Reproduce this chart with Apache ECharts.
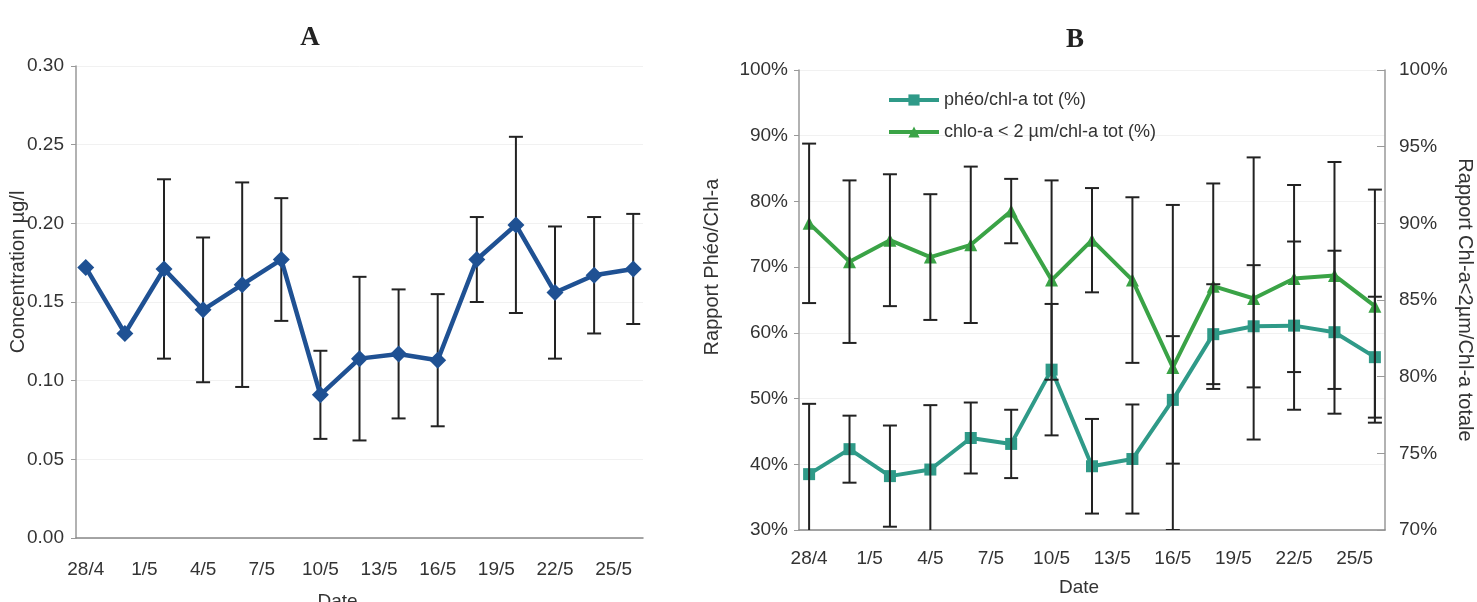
<!DOCTYPE html>
<html>
<head>
<meta charset="utf-8">
<script src="https://cdn.jsdelivr.net/npm/echarts@6/dist/echarts.min.js"></script>
<style>
html,body{margin:0;padding:0;background:#fff;}
#chart{width:1477px;height:602px;}
</style>
</head>
<body>
<div id="chart"></div>
<script>
// ---- Data ----
const dayCategories = ['28/4','29/4','30/4','1/5','2/5','3/5','4/5','5/5','6/5','7/5','8/5','9/5','10/5','11/5','12/5','13/5','14/5','15/5','16/5','17/5','18/5','19/5','20/5','21/5','22/5','23/5','24/5','25/5','26/5'];
const sampleDates = ['28/4','30/4','2/5','4/5','6/5','8/5','10/5','12/5','14/5','16/5','18/5','20/5','22/5','24/5','26/5'];

// Panel A : concentration (µg/l)
const concMean = [0.172,0.130,0.171,0.145,0.161,0.177,0.091,0.114,0.117,0.113,0.177,0.199,0.156,0.167,0.171];
const concSd   = [null,null,0.057,0.046,0.065,0.039,0.028,0.052,0.041,0.042,0.027,0.056,0.042,0.037,0.035];

// Panel B : phéo/chl-a tot (%) - left axis
const pheoMean = [38.5,42.3,38.2,39.2,44.0,43.1,54.4,39.7,40.8,49.8,59.8,61.0,61.1,60.1,56.3];
const pheoSd   = [10.7,5.1,7.7,9.8,5.4,5.2,10.0,7.2,8.3,9.7,7.6,9.3,12.8,12.4,9.2];

// Panel B : chlo-a < 2 µm/chl-a tot (%) - right axis
const picoMean = [90.0,87.5,88.9,87.8,88.6,90.8,86.3,88.9,86.3,80.6,85.9,85.1,86.4,86.6,84.6];
const picoSd   = [5.2,5.3,4.3,4.1,5.1,2.1,6.5,3.4,5.4,10.6,6.7,9.2,6.1,7.4,7.6];

const yTicksA = [0,0.30,0.05];
const yTicksBLeft = [30,100,10];
const yTicksBRight = [70,100,5];

// ---- Helpers ----
const FONT = '"Liberation Sans", Arial, sans-serif';
const TXT = '#333';
function pairs(mean){ return sampleDates.map((d,i)=>[d, mean[i]]); }
function errData(mean, sd){
  const out = [];
  sampleDates.forEach((d,i)=>{ if(sd[i]!=null) out.push([d, mean[i]-sd[i], mean[i]+sd[i]]); });
  return out;
}
function errRender(params, api){
  const x = api.value(0);
  const lo = api.coord([x, api.value(1)]);
  const hi = api.coord([x, api.value(2)]);
  const w = 7;
  const st = {stroke:'#222', lineWidth:2};
  return {type:'group', children:[
    {type:'line', shape:{x1:hi[0],y1:hi[1],x2:lo[0],y2:lo[1]}, style:st},
    {type:'line', shape:{x1:hi[0]-w,y1:hi[1],x2:hi[0]+w,y2:hi[1]}, style:st},
    {type:'line', shape:{x1:lo[0]-w,y1:lo[1],x2:lo[0]+w,y2:lo[1]}, style:st}
  ]};
}
function xAxisCfg(grid, margin, nameGap, shift){
  return {
    type:'category', gridIndex:grid, data:dayCategories, boundaryGap:true,
    axisLine:{lineStyle:{color:'#888', width:1.5}},
    axisTick:{interval:2, length:5, lineStyle:{color:'#888', width:1.5}},
    axisLabel:{interval:2, fontFamily:FONT, fontSize:19, color:TXT, margin:margin},
    splitLine:{show:false},
    name:'Date', nameLocation:'middle', nameGap:nameGap,
    nameTextStyle:{fontFamily:FONT, fontSize:19, color:TXT, padding:[0,shift,0,0]}
  };
}

const chart = echarts.init(document.getElementById('chart'), null, {renderer:'canvas'});
const option = {
  animation:false,
  backgroundColor:'#fff',
  title:[
    {text:'A', left:305, top:20, textAlign:'center', textStyle:{fontFamily:'"Liberation Serif", serif', fontWeight:'bold', fontSize:27, color:'#222'}},
    {text:'B', left:1070, top:22, textAlign:'center', textStyle:{fontFamily:'"Liberation Serif", serif', fontWeight:'bold', fontSize:27, color:'#222'}}
  ],
  legend:{
    orient:'vertical', left:882, top:86, itemWidth:50, itemHeight:14, itemGap:14,
    lineStyle:{width:4},
    textStyle:{fontFamily:FONT, fontSize:18, color:TXT},
    data:['phéo/chl-a tot (%)','chlo-a < 2 µm/chl-a tot (%)']
  },
  grid:[
    {left:76, right:834, top:66, bottom:64, containLabel:false, outerBoundsMode:'none'},
    {left:799, right:92, top:70, bottom:72, containLabel:false, outerBoundsMode:'none'}
  ],
  xAxis:[ xAxisCfg(0, 22, 54, 44), xAxisCfg(1, 19, 48, 26) ],
  yAxis:[
    {type:'value', gridIndex:0, min:yTicksA[0], max:yTicksA[1], interval:yTicksA[2],
     axisLine:{show:true, lineStyle:{color:'#999', width:1.5}},
     axisTick:{show:true, length:5, lineStyle:{color:'#999'}},
     axisLabel:{fontFamily:FONT, fontSize:19, color:TXT, margin:12, formatter:v=>v.toFixed(2)},
     splitLine:{show:true, lineStyle:{color:'#f1f1f1'}},
     name:'Concentration µg/l', nameLocation:'middle', nameGap:48, nameRotate:90, nameMoveOverlap:false,
     nameTextStyle:{fontFamily:FONT, fontSize:20, color:TXT, padding:[0,0,0,60]}},
    {type:'value', gridIndex:1, min:yTicksBLeft[0], max:yTicksBLeft[1], interval:yTicksBLeft[2],
     axisLine:{show:true, lineStyle:{color:'#999', width:1.5}},
     axisTick:{show:true, length:5, lineStyle:{color:'#999'}},
     axisLabel:{fontFamily:FONT, fontSize:19, color:TXT, margin:11, formatter:'{value}%'},
     splitLine:{show:true, lineStyle:{color:'#f1f1f1'}},
     name:'Rapport Phéo/Chl-a', nameLocation:'middle', nameGap:77, nameRotate:90,
     nameTextStyle:{fontFamily:FONT, fontSize:20, color:TXT, padding:[0,0,0,66]}},
    {type:'value', gridIndex:1, position:'right', min:yTicksBRight[0], max:yTicksBRight[1], interval:yTicksBRight[2],
     axisLine:{show:true, lineStyle:{color:'#999', width:1.5}},
     axisTick:{show:true, inside:true, length:8, lineStyle:{color:'#999'}},
     axisLabel:{fontFamily:FONT, fontSize:19, color:TXT, margin:14, formatter:'{value}%'},
     splitLine:{show:false},
     name:'Rapport Chl-a<2µm/Chl-a totale', nameLocation:'middle', nameGap:70, nameRotate:-90,
     nameTextStyle:{fontFamily:FONT, fontSize:20, color:TXT}}
  ],
  series:[
    {type:'custom', name:'errA', xAxisIndex:0, yAxisIndex:0, renderItem:errRender,
     encode:{x:0, y:[1,2]}, data:errData(concMean, concSd), z:1, clip:true},
    {type:'line', name:'Concentration', xAxisIndex:0, yAxisIndex:0, data:pairs(concMean),
     showAllSymbol:true, symbol:'diamond', symbolSize:17, lineStyle:{color:'#1f5193', width:4.5},
     itemStyle:{color:'#1f5193'}, z:3},

    {type:'line', name:'phéo/chl-a tot (%)', xAxisIndex:1, yAxisIndex:1, data:pairs(pheoMean),
     showAllSymbol:true, symbol:'rect', symbolSize:12, lineStyle:{color:'#2f9a88', width:4},
     itemStyle:{color:'#2f9a88'}, z:2},
    {type:'line', name:'chlo-a < 2 µm/chl-a tot (%)', xAxisIndex:1, yAxisIndex:2, data:pairs(picoMean),
     showAllSymbol:true, symbol:'triangle', symbolSize:13, lineStyle:{color:'#3aa346', width:4},
     itemStyle:{color:'#3aa346'}, z:2},
    {type:'custom', name:'errPheo', xAxisIndex:1, yAxisIndex:1, renderItem:errRender,
     encode:{x:0, y:[1,2]}, data:errData(pheoMean, pheoSd), z:4, clip:true},
    {type:'custom', name:'errPico', xAxisIndex:1, yAxisIndex:2, renderItem:errRender,
     encode:{x:0, y:[1,2]}, data:errData(picoMean, picoSd), z:4, clip:true}
  ]
};
chart.setOption(option);
</script>
</body>
</html>
